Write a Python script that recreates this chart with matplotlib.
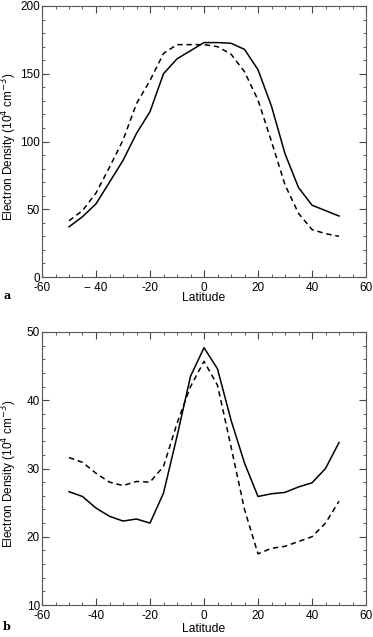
import matplotlib
matplotlib.use("Agg")
import matplotlib.pyplot as plt
from matplotlib.ticker import MultipleLocator

plt.rcParams['font.family'] = ['Liberation Sans', 'DejaVu Sans']

lat = [-50, -45, -40, -35, -30, -25, -20, -15, -10, -5, 0, 5, 10, 15, 20, 25, 30, 35, 40, 45, 50]

a_solid = [37, 44.5, 54, 70, 86, 106, 122, 150, 161, 167, 173, 173, 172.5, 168, 153, 126, 91, 66, 53, 49, 45]
a_dashed = [41.5, 49, 62, 81, 101, 128, 145, 165, 171.5, 171.5, 171.5, 170, 164.5, 151.5, 130.6, 100, 68, 47, 35, 32, 30]

b_solid = [26.6, 25.9, 24.2, 23, 22.3, 22.6, 22, 26.4, 34.7, 43.5, 47.7, 44.6, 37.1, 30.8, 25.9, 26.3, 26.5, 27.3, 27.9, 30, 33.8]
b_dashed = [31.6, 30.9, 29.3, 28, 27.5, 28.1, 28, 30.3, 36.6, 42, 45.7, 42.2, 33.2, 24, 17.5, 18.3, 18.6, 19.3, 20, 22, 25.2]

xticks = [-60, -40, -20, 0, 20, 40, 60]
xlabels_a = ['-60', '\u2212 40', '-20', '0', '20', '40', '60']
xlabels_b = ['-60', '-40', '-20', '0', '20', '40', '60']

ylabel = 'Electron Density (10$^{4}$ cm$^{-3}$)'

W, H = 373, 637
fig = plt.figure(figsize=(W / 100, H / 100), dpi=100)
axa = fig.add_axes([42 / W, 1 - 277 / H, (366 - 42) / W, (277 - 6) / H])
axb = fig.add_axes([42 / W, 1 - 605 / H, (366 - 42) / W, (605 - 332) / H])

panels = [
    (axa, a_solid, a_dashed, (0, 200), 50, 10, xlabels_a, 298, 'a', 296),
    (axb, b_solid, b_dashed, (10, 50), 10, 2, xlabels_b, 629.5, 'b', 627),
]

for ax, s, d, ylim, ymaj, ymin, xl, laty, letter, lety in panels:
    ax.plot(lat, s, color='black', lw=1.1, linestyle='-')
    ax.plot(lat, d, color='black', lw=1.1, linestyle=(0, (3.5, 2.5)))
    ax.set_xlim(-60, 60)
    ax.set_ylim(*ylim)
    ax.set_xticks(xticks)
    ax.set_xticklabels(xl)
    ax.xaxis.set_minor_locator(MultipleLocator(5))
    ax.yaxis.set_major_locator(MultipleLocator(ymaj))
    ax.yaxis.set_minor_locator(MultipleLocator(ymin))
    ax.tick_params(which='both', direction='in', top=True, right=True, labelsize=8.5, color='#444444')
    ax.tick_params(axis='y', which='both', pad=1.5)
    ax.tick_params(axis='x', which='both', pad=3.5)
    ax.tick_params(which='major', length=5, width=0.8)
    ax.tick_params(which='minor', length=2.5, width=0.6)
    for sp in ax.spines.values():
        sp.set_color('#555555')
        sp.set_linewidth(0.8)
    bb = ax.get_position()
    fig.text(9.5 / W, (bb.y0 + bb.y1) / 2 - 0.008, ylabel, rotation=90, fontsize=8.5,
             ha='center', va='center')
    fig.text(204 / W, 1 - laty / H, 'Latitude', fontsize=8.7, ha='center', va='center')
    fig.text(3 / W, 1 - lety / H, letter, fontsize=8, fontweight='bold',
             family='DejaVu Serif', va='center')

fig.savefig('out.png', dpi=100)
